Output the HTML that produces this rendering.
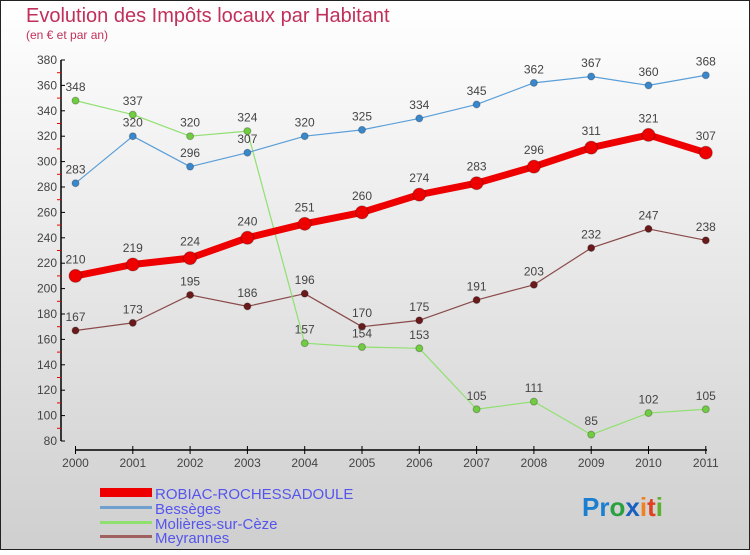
<!DOCTYPE html>
<html><head><meta charset="utf-8"><style>
html,body{margin:0;padding:0}
body{width:750px;height:550px;overflow:hidden;font-family:"Liberation Sans",sans-serif}
</style></head><body>
<svg width="750" height="550" xmlns="http://www.w3.org/2000/svg">
<defs><linearGradient id="bg" x1="0" y1="0" x2="0" y2="1"><stop offset="0" stop-color="#ffffff"/><stop offset="1" stop-color="#cfcfcf"/></linearGradient></defs>
<rect x="0.5" y="0.5" width="749" height="549" fill="url(#bg)" stroke="#222"/>
<text x="26" y="22" font-size="20" fill="#c0305a">Evolution des Impôts locaux par Habitant</text>
<text x="26" y="39" font-size="12" fill="#c0305a">(en € et par an)</text>
<g id="axes"></g>
<g id="series"></g>
<g id="legend">
<rect x="100" y="488" width="52" height="9" fill="#e00"/>
<text x="155" y="499" font-size="15" fill="#5555ee">ROBIAC-ROCHESSADOULE</text>
<rect x="100" y="506" width="52" height="3" fill="#6fa0d0"/>
<text x="155" y="514" font-size="15" fill="#5555ee">Bessèges</text>
<rect x="100" y="521" width="52" height="3" fill="#90e070"/>
<text x="155" y="529" font-size="15" fill="#5555ee">Molières-sur-Cèze</text>
<rect x="100" y="535" width="52" height="3" fill="#a06060"/>
<text x="155" y="543" font-size="15" fill="#5555ee">Meyrannes</text>
</g>
<text x="582" y="516" font-size="26" font-weight="bold"><tspan fill="#1a7fd0">Pr</tspan><tspan fill="#2aa040">o</tspan><tspan fill="#1a60c0">x</tspan><tspan fill="#f08020">i</tspan><tspan fill="#e04020">t</tspan><tspan fill="#60b030">i</tspan></text>
</svg>
<script>
const years=["2000","2001","2002","2003","2004","2005","2006","2007","2008","2009","2010","2011"];
const yTicks=[80,100,120,140,160,180,200,220,240,260,280,300,320,340,360,380];
const robiac=[210,219,224,240,251,260,274,283,296,311,321,307];
const besseges=[283,320,296,307,320,325,334,345,362,367,360,368];
const molieres=[348,337,320,324,157,154,153,105,111,85,102,105];
const meyrannes=[167,173,195,186,196,170,175,191,203,232,247,238];
const NS="http://www.w3.org/2000/svg";
const xS=i=>75.5+i*57.3;
const yS=v=>441-(v-80)*381/300;
function mk(t,a,p){const e=document.createElementNS(NS,t);for(const k in a)e.setAttribute(k,a[k]);p.appendChild(e);return e;}
const ax=document.getElementById('axes');
let l=mk('line',{x1:61,y1:60,x2:61,y2:441,stroke:'#000','stroke-width':1.5},ax);


yTicks.forEach((v,i)=>{
  mk('line',{x1:61,y1:yS(v),x2:65,y2:yS(v),stroke:'#000'},ax);
  if(i<yTicks.length-1)mk('line',{x1:57,y1:yS(v+10),x2:61,y2:yS(v+10),stroke:'#e00'},ax);
  const t=mk('text',{x:57,y:yS(v)+4,'font-size':12,fill:'#444','text-anchor':'end'},ax);
  t.textContent=v;
  
  
});
l=mk('line',{x1:75,y1:450,x2:707,y2:450,stroke:'#000','stroke-width':1.5},ax);


years.forEach((y,i)=>{
  mk('line',{x1:xS(i),y1:446,x2:xS(i),y2:454,stroke:'#000'},ax);
  const t=mk('text',{x:xS(i),y:467,'font-size':12,fill:'#444','text-anchor':'middle'},ax);
  t.textContent=y;
  
  
});
const sg=document.getElementById('series');
function draw(vals,color,dot,w,r,name){
  const g=mk('g',{},sg);
  
  
  mk('polyline',{points:vals.map((v,i)=>xS(i)+','+yS(v)).join(' '),fill:'none',stroke:color,'stroke-width':w,'stroke-linejoin':'round'},g);
  vals.forEach((v,i)=>{
    const c=mk('circle',{cx:xS(i),cy:yS(v),r:r,fill:dot,stroke:'rgba(0,0,0,0.25)','stroke-width':1},g);
    
    
    const t=mk('text',{x:xS(i),y:yS(v)-(r+6),'font-size':12,fill:'#444','text-anchor':'middle'},g);
    t.textContent=v;
    
    
  });
}
draw(meyrannes,'#8a4a4a','#6a1a1a',1.2,3.5,'meyrannes');
draw(molieres,'#90e070','#70cc40',1.2,3.5,'molieres');
draw(besseges,'#5a9fd8','#3a88cc',1.2,3.5,'besseges');
draw(robiac,'#ee0000','#ee0000',7,6.5,'robiac');
</script>
</body></html>
